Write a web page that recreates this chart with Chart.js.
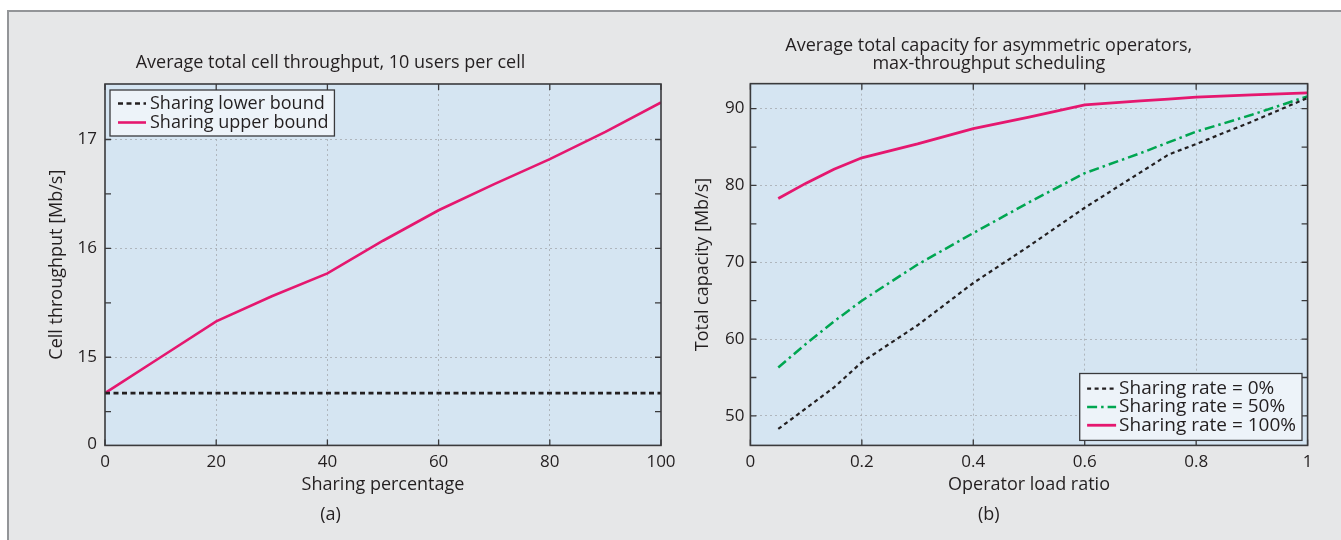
<!DOCTYPE html>
<html>
<head>
<meta charset="utf-8">
<script src="https://cdn.jsdelivr.net/npm/chart.js@4.4.1/dist/chart.umd.min.js"></script>
<style>
  html, body { margin: 0; padding: 0; background: #fff; }
  body { width: 1341px; height: 540px; position: relative; overflow: hidden; }
  #panel { position: absolute; left: 7px; top: 10px; width: 1340px; height: 540px;
           background: #e6e7e8; border-top: 2px solid #939598; border-left: 2px solid #939598; }
  canvas { position: absolute; top: 0; }
  #left { left: 0; }
  #right { left: 670px; }
</style>
</head>
<body>
<div id="panel"></div>
<canvas id="left" width="690" height="540"></canvas>
<canvas id="right" width="671" height="540"></canvas>
<script>
// (a) cell throughput vs sharing percentage
const sharingPct = [0, 10, 20, 30, 40, 50, 60, 70, 80, 90, 100]
const lowerBound = [14.67, 14.67, 14.67, 14.67, 14.67, 14.67, 14.67, 14.67, 14.67, 14.67, 14.67]
const upperBound = [14.67, 15.0, 15.33, 15.56, 15.77, 16.07, 16.35, 16.59, 16.82, 17.07, 17.34]
const leftXTicks = [0, 20, 40, 60, 80, 100]
const leftYTicks = [14.205, 15, 16, 17]          // axis is broken: bottom tick reads "0"
const leftYLabels = ['0', '15', '16', '17']
const leftYMarks = [14.5, 15, 15.5, 16, 16.5, 17]

// (b) total capacity vs operator load ratio
const loadRatio = [0.05, 0.1, 0.15, 0.2, 0.3, 0.4, 0.5, 0.6, 0.7, 0.75, 0.8, 0.9, 1.0]
const rate0   = [48.3, 51.0, 53.7, 57.0, 61.8, 67.3, 72.1, 77.1, 81.7, 84.0, 85.4, 88.3, 91.4]
const rate50  = [56.3, 59.4, 62.3, 65.0, 69.7, 73.8, 77.8, 81.6, 84.2, 85.6, 87.0, 89.2, 91.6]
const rate100 = [78.3, 80.3, 82.1, 83.6, 85.4, 87.4, 88.9, 90.5, 91.0, 91.25, 91.5, 91.8, 92.05]
const rightXTicks = [0, 0.2, 0.4, 0.6, 0.8, 1]
const rightYTicks = [50, 60, 70, 80, 90]
const rightYMarks = [50, 55, 60, 65, 70, 75, 80, 85, 90]

const INK = '#231f20'
const PINK = '#e5176f'
const GREEN = '#00a651'

Chart.defaults.font.family = "'Open Sans', sans-serif"
Chart.defaults.color = INK

const pts = (xs, ys) => xs.map((x, i) => ({ x, y: ys[i] }))

// plot background, box frame and inward tick marks
const frame = {
  id: 'frame',
  beforeDraw(chart) {
    const { ctx, chartArea: a } = chart
    ctx.save()
    ctx.fillStyle = '#d5e5f2'
    ctx.fillRect(a.left, a.top, a.width, a.height)
    ctx.restore()
  },
  afterDatasetsDraw(chart, args, opts) {
    const { ctx, chartArea: a, scales: { x, y } } = chart
    const len = 6
    ctx.save()
    ctx.strokeStyle = '#3a3a3c'
    ctx.lineWidth = 1.3
    ctx.beginPath()
    for (const v of opts.xMarks) {
      const p = x.getPixelForValue(v)
      ctx.moveTo(p, a.bottom); ctx.lineTo(p, a.bottom - len)
      ctx.moveTo(p, a.top); ctx.lineTo(p, a.top + len)
    }
    for (const v of opts.yMarks) {
      const p = y.getPixelForValue(v)
      ctx.moveTo(a.left, p); ctx.lineTo(a.left + len, p)
      ctx.moveTo(a.right, p); ctx.lineTo(a.right - len, p)
    }
    ctx.stroke()
    ctx.lineWidth = 1.6
    ctx.strokeRect(a.left, a.top, a.width, a.height)
    ctx.restore()
  },
}

// boxed legend inside the plot
const boxLegend = {
  id: 'boxLegend',
  afterDraw(chart, args, o) {
    const { ctx, chartArea: a } = chart
    const sets = chart.data.datasets
    ctx.save()
    ctx.font = o.size + "px 'Open Sans', sans-serif"
    const textW = Math.max(...sets.map(d => ctx.measureText(d.label).width))
    const w = o.pad + o.sample + o.gap + textW + 6
    const h = sets.length * o.rowH + o.padV * 2
    const left = o.corner === 'tl' ? a.left + o.dx : a.right - o.dx - w
    const top = o.corner === 'tl' ? a.top + o.dy : a.bottom - o.dy - h
    ctx.fillStyle = '#edf3f9'
    ctx.fillRect(left, top, w, h)
    ctx.strokeStyle = '#3a3a3c'
    ctx.lineWidth = 1.3
    ctx.strokeRect(left, top, w, h)
    sets.forEach((d, i) => {
      const cy = top + o.padV + o.rowH * (i + 0.5)
      ctx.strokeStyle = d.borderColor
      ctx.lineWidth = d.borderWidth
      ctx.setLineDash(d.borderDash || [])
      ctx.beginPath()
      ctx.moveTo(left + o.pad, cy)
      ctx.lineTo(left + o.pad + o.sample, cy)
      ctx.stroke()
      ctx.setLineDash([])
      ctx.fillStyle = INK
      ctx.textBaseline = 'middle'
      ctx.fillText(d.label, left + o.pad + o.sample + o.gap, cy)
    })
    ctx.restore()
  },
}

const gridColor = majors => c => majors.includes(c.tick.value) ? 'rgba(165,170,175,0.8)' : 'rgba(0,0,0,0)'

function xScale(ticks, min, max) {
  return {
    type: 'linear', min, max,
    afterBuildTicks: s => { s.ticks = ticks.map(v => ({ value: v })) },
    afterFit: s => { s.height = 59; s.paddingLeft = 0; s.paddingRight = 0 },
    grid: { drawTicks: false, color: gridColor(ticks.slice(1, -1)), lineWidth: 1 },
    border: { display: false, dash: [2, 3] },
    ticks: { padding: 7, font: { size: 17 }, color: INK, maxRotation: 0, callback: v => String(v) },
  }
}

function yScale(ticks, labels, min, max, width, pad) {
  return {
    type: 'linear', min, max,
    afterBuildTicks: s => { s.ticks = ticks.map(v => ({ value: v })) },
    afterFit: s => { s.width = width; s.paddingTop = 0; s.paddingBottom = 0 },
    grid: { drawTicks: false, color: gridColor(ticks.filter(v => v > min + 0.5)), lineWidth: 1 },
    border: { display: false, dash: [2, 3] },
    ticks: { padding: pad, font: { size: 17 }, color: INK, callback: v => labels[ticks.indexOf(v)] },
  }
}

new Chart(document.getElementById('left'), {
  type: 'line',
  data: {
    datasets: [
      { label: 'Sharing lower bound', data: pts(sharingPct, lowerBound), borderColor: INK, borderWidth: 2.6, borderDash: [5, 3.5] },
      { label: 'Sharing upper bound', data: pts(sharingPct, upperBound), borderColor: PINK, borderWidth: 2.6 },
    ],
  },
  options: {
    responsive: false,
    animation: false,
    elements: { point: { radius: 0 }, line: { tension: 0 } },
    layout: { padding: { left: 0, right: 29, top: 0, bottom: 0 } },
    plugins: {
      legend: { display: false },
      tooltip: { enabled: false },
      title: { display: true, text: 'Average total cell throughput, 10 users per cell', font: { size: 18, weight: 'normal' }, padding: { top: 52.2, bottom: 10.2 } },
      subtitle: { display: true, position: 'bottom', text: '(a)', font: { size: 18 }, color: INK, padding: { top: 0, bottom: 14 } },
      frame: { xMarks: leftXTicks, yMarks: leftYMarks },
      boxLegend: { corner: 'tl', dx: 5, dy: 6, size: 18, rowH: 19, padV: 4, pad: 8, sample: 28, gap: 4 },
    },
    scales: {
      x: { ...xScale(leftXTicks, 0, 100), title: { display: true, text: 'Sharing percentage', font: { size: 18 }, color: INK, padding: { top: 0, bottom: 9 } } },
      y: { ...yScale(leftYTicks, leftYLabels, 14.19, 17.51, 105, 8), title: { display: true, text: 'Cell throughput [Mb/s]', font: { size: 18 }, color: INK, padding: { top: 46, bottom: 0 } } },
    },
  },
  plugins: [frame, boxLegend],
})

new Chart(document.getElementById('right'), {
  type: 'line',
  data: {
    datasets: [
      { label: 'Sharing rate = 0%', data: pts(loadRatio, rate0), borderColor: INK, borderWidth: 2.2, borderDash: [4, 3.5] },
      { label: 'Sharing rate = 50%', data: pts(loadRatio, rate50), borderColor: GREEN, borderWidth: 2.5, borderDash: [10, 4, 2.5, 4] },
      { label: 'Sharing rate = 100%', data: pts(loadRatio, rate100), borderColor: PINK, borderWidth: 2.8 },
    ],
  },
  options: {
    responsive: false,
    animation: false,
    elements: { point: { radius: 0 }, line: { tension: 0 } },
    layout: { padding: { left: 0, right: 33.4, top: 0, bottom: 0 } },
    plugins: {
      legend: { display: false },
      tooltip: { enabled: false },
      title: { display: true, text: ['Average total capacity for asymmetric operators,', 'max-throughput scheduling'], font: { size: 18, weight: 'normal', lineHeight: 1.01 }, padding: { top: 36.4, bottom: 10.9 } },
      subtitle: { display: true, position: 'bottom', text: '(b)', font: { size: 18 }, color: INK, padding: { top: 0, bottom: 14 } },
      frame: { xMarks: rightXTicks, yMarks: rightYMarks },
      boxLegend: { corner: 'br', dx: 5.6, dy: 5, size: 19, rowH: 18.3, padV: 6, pad: 7.4, sample: 29, gap: 3 },
    },
    scales: {
      x: { ...xScale(rightXTicks, 0, 1), title: { display: true, text: 'Operator load ratio', font: { size: 18 }, color: INK, padding: { top: 0, bottom: 9 } } },
      y: { ...yScale(rightYTicks, rightYTicks.map(String), 46.16, 93.25, 80.4, 6), title: { display: true, text: 'Total capacity [Mb/s]', font: { size: 18 }, color: INK, padding: { top: 22, bottom: 0 } } },
    },
  },
  plugins: [frame, boxLegend],
})
</script>
</body>
</html>
